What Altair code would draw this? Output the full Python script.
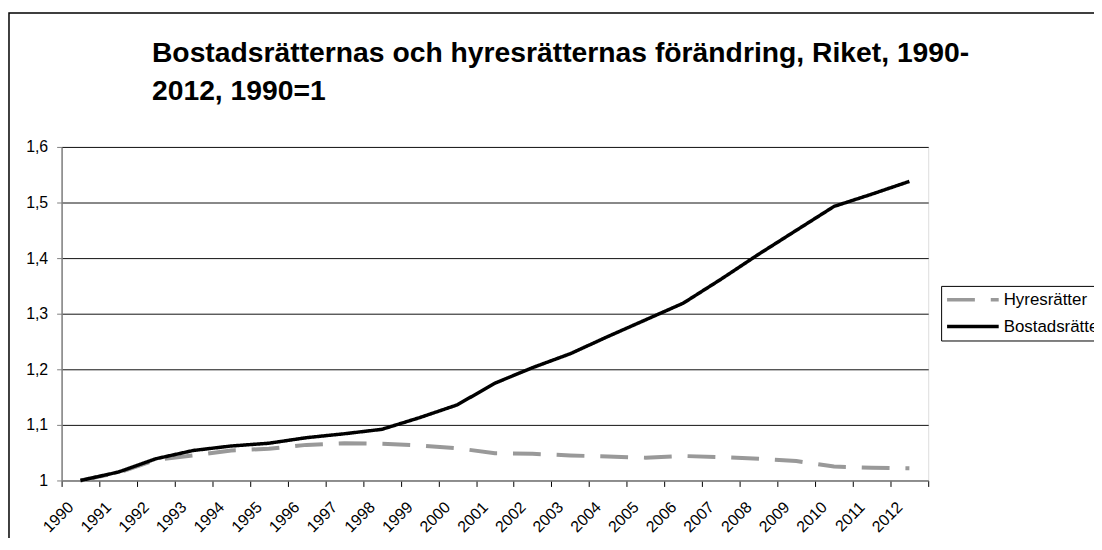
import altair as alt
import pandas as pd

years = ["1990", "1991", "1992", "1993", "1994", "1995", "1996", "1997", "1998",
         "1999", "2000", "2001", "2002", "2003", "2004", "2005", "2006", "2007",
         "2008", "2009", "2010", "2011", "2012"]
bostadsratter = [1.000, 1.015, 1.039, 1.054, 1.062, 1.067, 1.077, 1.084, 1.092,
                 1.113, 1.136, 1.175, 1.203, 1.228, 1.259, 1.289, 1.319, 1.362,
                 1.407, 1.450, 1.493, 1.515, 1.538]
hyresratter = [1.000, 1.014, 1.037, 1.045, 1.054, 1.057, 1.064, 1.067, 1.066,
               1.063, 1.058, 1.049, 1.048, 1.045, 1.043, 1.041, 1.044, 1.042,
               1.039, 1.035, 1.025, 1.023, 1.022]
series_names = ["Hyresrätter", "Bostadsrätter"]
series_colors = ["#999999", "#000000"]
series_dashes = [[28, 16], [1, 0]]
y_ticks = [1.0, 1.1, 1.2, 1.3, 1.4, 1.5, 1.6]
title_lines = ["Bostadsrätternas och hyresrätternas förändring, Riket, 1990-",
               "2012, 1990=1"]

FONT = "Liberation Sans"

df = pd.DataFrame({
    "year": years + years,
    "value": hyresratter + bostadsratter,
    "series": [series_names[0]] * len(years) + [series_names[1]] * len(years),
})

legend = alt.Legend(
    title=None, orient="none", legendX=886, legendY=140,
    symbolType="stroke", symbolSize=2704, symbolStrokeWidth=3.5,
    clipHeight=20, padding=4, rowPadding=7, labelOffset=3,
    labelFontSize=17, labelFont=FONT, labelColor="#000000",
    strokeColor="#000000",
)

x_enc = alt.X(
    "year:O", sort=years, bandPosition=0.5,
    scale=alt.Scale(type="band", paddingInner=0, paddingOuter=0),
    axis=alt.Axis(
        title=None, labelAngle=315, labelAlign="right", labelBaseline="middle",
        labelOffset=-10, labelPadding=18, tickBand="extent", tickSize=6,
        tickColor="#000000", domainColor="#808080", domainWidth=1.5,
        labelFontSize=16, labelFont=FONT, labelColor="#000000", grid=False,
        labelOverlap=False,
    ),
)
y_enc = alt.Y(
    "value:Q",
    scale=alt.Scale(domain=[1.0, 1.6], nice=False, zero=False),
    axis=alt.Axis(
        title=None, values=y_ticks,
        labelExpr="replace(format(datum.value, '.1~f'), '.', ',')",
        tickSize=5, tickColor="#808080", domainColor="#808080", domainWidth=1.5,
        labelPadding=9, labelFontSize=16, labelFont=FONT, labelColor="#000000",
        grid=True, gridWidth=1,
        gridColor={"condition": {"test": "datum.value <= 1", "value": "#808080"},
                   "value": "#111111"},
    ),
)
color_enc = alt.Color("series:N", scale=alt.Scale(domain=series_names, range=series_colors), legend=legend)
dash_enc = alt.StrokeDash("series:N", scale=alt.Scale(domain=series_names, range=series_dashes), legend=legend)

base = alt.Chart(df).encode(x=x_enc, y=y_enc, color=color_enc, strokeDash=dash_enc)

gray = base.transform_filter(alt.datum.series == series_names[0]).mark_line(strokeWidth=4, strokeCap="butt")
black = base.transform_filter(alt.datum.series == series_names[1]).mark_line(strokeWidth=3.5, strokeJoin="round")

border = alt.Chart(pd.DataFrame({"k": [0]})).mark_rect(
    filled=False, stroke="#000000", strokeWidth=1.5
).encode(x=alt.value(-53), x2=alt.value(1400), y=alt.value(-135), y2=alt.value(800))

chart = alt.layer(border, gray, black).properties(
    width=873, height=336,
    autosize=alt.AutoSizeParams(type="none"),
    padding={"left": 54, "top": 138, "right": 167, "bottom": 56},
    title=alt.TitleParams(
        text=title_lines, anchor="start", frame="group", dx=91, offset=0, dy=117,
        baseline="alphabetic", fontSize=28.5, fontWeight="bold", font=FONT,
        lineHeight=38, color="#000000",
    ),
).configure_view(strokeWidth=0).configure(background="#ffffff")

chart.save("out.html", embed_options={"renderer": "svg", "actions": False})
